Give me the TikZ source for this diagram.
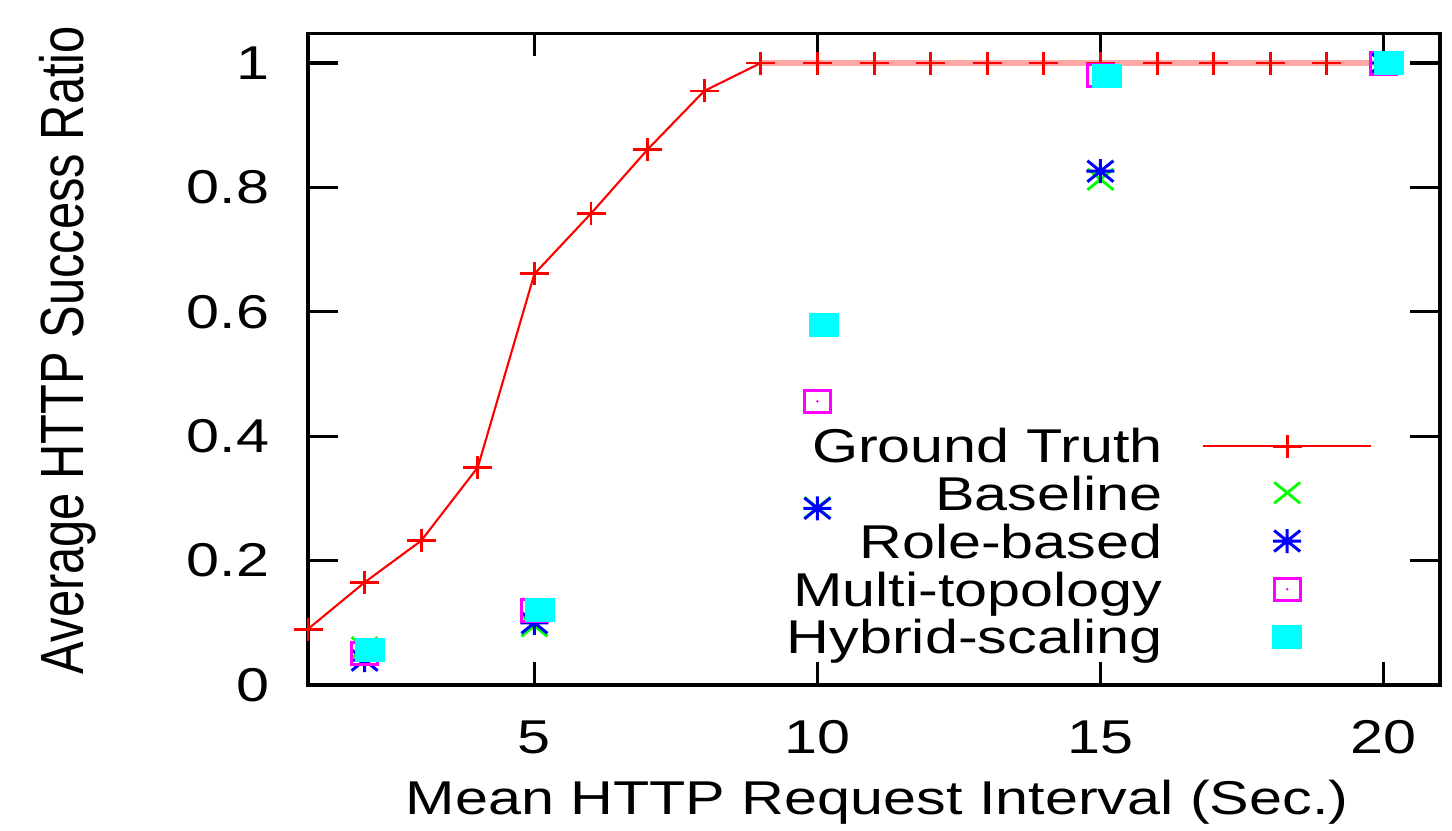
\documentclass[tikz,border=0pt]{standalone}
\usepackage{fontspec}
\setmainfont{Liberation Sans}[FakeStretch=1.25]
\newfontfamily\plainsans{Liberation Sans}
\usepackage{graphicx}
\usepackage{tikz}
\usetikzlibrary{calc}
\usetikzlibrary{positioning}

\definecolor{ptred}{RGB}{255,0,0}
\definecolor{ptgreen}{RGB}{0,255,0}
\definecolor{ptblue}{RGB}{0,0,255}
\definecolor{ptmagenta}{RGB}{255,0,255}
\definecolor{ptcyan}{RGB}{0,255,255}

\tikzset{
  every node/.style={font=\fontsize{13.5}{16}\selectfont},
  frame/.style={line width=0.9pt},
  gtline/.style={ptred, line width=0.6pt},
  gtmark/.style={ptred, line width=0.85pt},
  blmark/.style={ptgreen, line width=0.8pt},
  rbmark/.style={ptblue, line width=0.85pt},
  mtmark/.style={ptmagenta, line width=0.85pt},
}

% one macro per point type
\newcommand{\gtpt}[1]{\path[draw, gtmark] (#1) +(-0.145cm,0) -- +(0.145cm,0) (#1) +(0,-0.115cm) -- +(0,0.115cm);}
\newcommand{\blpt}[1]{\path[draw, blmark] (#1) +(-0.13cm,-0.105cm) -- +(0.13cm,0.105cm) (#1) +(-0.13cm,0.105cm) -- +(0.13cm,-0.105cm);}
\newcommand{\rbpt}[1]{\path[draw, rbmark] (#1) +(-0.13cm,-0.105cm) -- +(0.13cm,0.105cm) (#1) +(-0.13cm,0.105cm) -- +(0.13cm,-0.105cm) (#1) +(-0.14cm,0) -- +(0.14cm,0) (#1) +(0,-0.12cm) -- +(0,0.12cm);}
\newcommand{\mtpt}[1]{\path[draw, mtmark] (#1) +(-0.13cm,-0.11cm) rectangle +(0.13cm,0.11cm); \path[fill=ptmagenta] (#1) circle (0.014cm);}
\newcommand{\hspt}[1]{\path[fill=ptcyan] (#1) +(-0.15cm,-0.12cm) rectangle +(0.15cm,0.12cm);}

\begin{document}
\begin{tikzpicture}

\useasboundingbox (0,0) rectangle (14.52,8.30);

\begin{scope}[shift={(2.514,1.45)}, x=0.566cm, y=6.22cm]

% frame and ticks
\path[draw, frame] (1,0) rectangle (21,1.048);
\foreach \k in {5,10,15,20} {
   \path[draw, frame] (\k,0) -- ++(0,0.23cm);
   \path[draw, frame] (\k,1.048) -- ++(0,-0.23cm);
   \node[inner sep=0, yshift=-0.52cm] (xtl\k) at (\k,0) {\k};
}
\foreach \v/\t [count=\i] in {0/0, 0.2/0.2, 0.4/0.4, 0.6/0.6, 0.8/0.8, 1/1} {
   \path[draw, frame] (1,\v) -- ++(0.3cm,0);
   \path[draw, frame] (21,\v) -- ++(-0.3cm,0);
   \node[anchor=east, inner sep=0, xshift=-0.38cm] (ytl\i) at (1,\v) {\t};
}

% Ground Truth
\path[draw, gtline] (1,0.09) -- (2,0.165) -- (3,0.232) -- (4,0.35) -- (5,0.661)
   -- (6,0.758) -- (7,0.861) -- (8,0.955) -- (9,1);
\path[draw, ptred!35, line width=1.5pt] (9,1) -- (20,1);
\foreach \x/\y in {1/0.09, 2/0.165, 3/0.232, 4/0.35, 5/0.661, 6/0.758, 7/0.861, 8/0.955,
   9/1, 10/1, 11/1, 12/1, 13/1, 14/1, 15/1, 16/1, 17/1, 18/1, 19/1, 20/1} {
   \gtpt{\x,\y}
}

% Baseline
\foreach \x/\y in {2/0.06, 5/0.095, 10/0.285, 15/0.813, 20/1} {
   \blpt{\x,\y}
}

% Role-based
\foreach \x/\y in {2/0.04, 5/0.10, 10/0.284, 15/0.826, 20/1} {
   \rbpt{\x,\y}
}

% Multi-topology
\foreach \x/\y in {2/0.05, 5/0.12, 10/0.456, 15/0.98, 20/1} {
   \mtpt{\x,\y}
}

% Hybrid-scaling
\foreach \x/\y in {2.1/0.056, 5.1/0.12, 10.12/0.579, 15.12/0.979, 20.1/1} {
   \hspt{\x,\y}
}

% key
\node[anchor=base east, inner sep=0] (kgt) at (16.11,0.357) {Ground Truth};
\node[anchor=base east, inner sep=0] (kbl) at (16.11,0.281) {Baseline};
\node[anchor=base east, inner sep=0] (krb) at (16.11,0.204) {Role-based};
\node[anchor=base east, inner sep=0] (kmt) at (16.11,0.127) {Multi-topology};
\node[anchor=base east, inner sep=0] (khs) at (16.11,0.050) {Hybrid-scaling};

\coordinate (gtl) at (16.81,0.384);
\coordinate (gtr) at (19.78,0.384);
\path[draw, gtline] (gtl) -- (gtr);
\gtpt{18.3,0.384}
\blpt{18.3,0.309}
\rbpt{18.3,0.2315}
\mtpt{18.3,0.154}
\hspt{18.3,0.077}

\end{scope}

\node (xlabel) at (8.77,0.28) {Mean HTTP Request Interval (Sec.)};
\node (ylabel) at (0.68,4.8) {\scalebox{1.25}[1]{\rotatebox{90}{\fontsize{13.9}{16}\plainsans Average HTTP Success Ratio}}};

\end{tikzpicture}
\end{document}
